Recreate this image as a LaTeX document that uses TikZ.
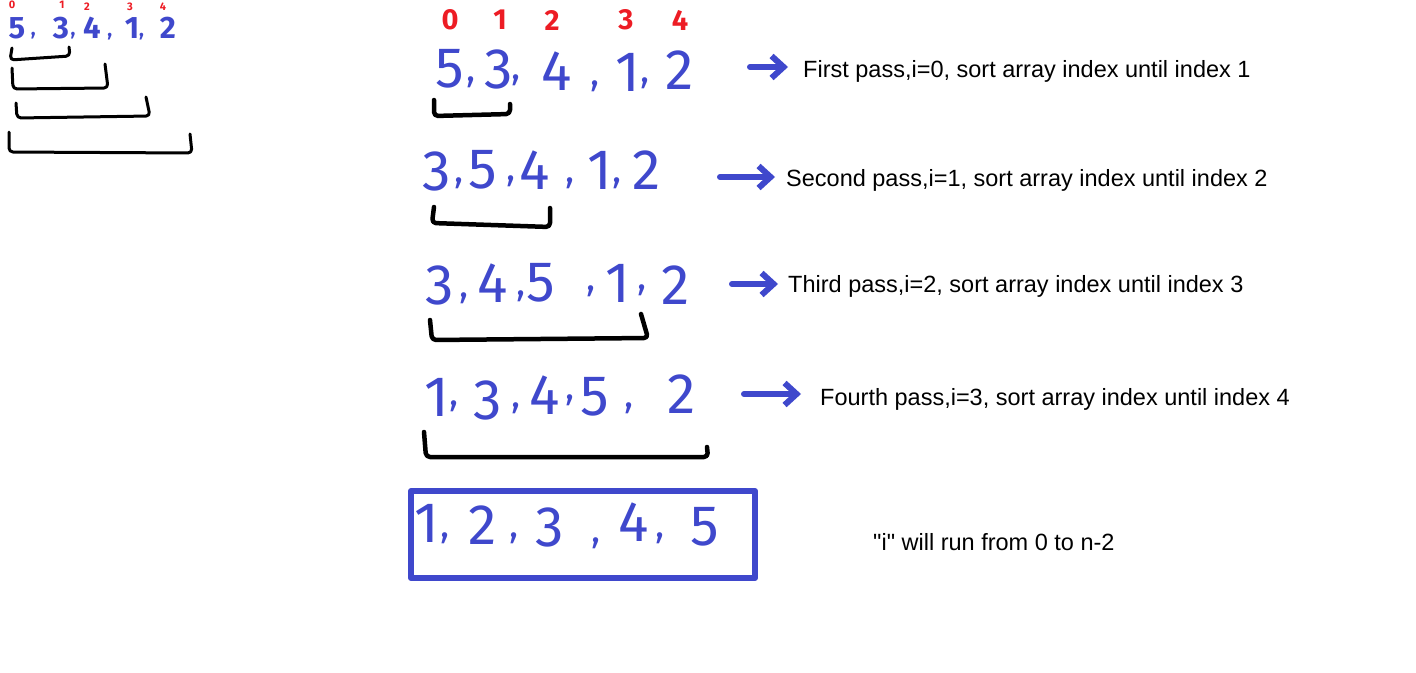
\documentclass[tikz,border=0pt]{standalone}
\usepackage{fontspec}
\setmainfont{Liberation Sans}[Ligatures=TeXOff]
\newfontfamily\handfont{Fira Sans}
\usetikzlibrary{arrows.meta}
\definecolor{penBlue}{RGB}{63, 72, 204}
\definecolor{penRed}{RGB}{237, 28, 36}
% comma written after a digit: shift right, raise, size
\newcommand{\pencomma}[3]{\rlap{\smash{\hspace{#1pt}\raisebox{#2pt}{\fontsize{#3}{#3}\selectfont,}}}}

\begin{document}
\begin{tikzpicture}[x=1pt, y=-1pt,
    digit/.style={penBlue, inner sep=0pt, font=\handfont\fontsize{57}{57}\selectfont},
    smalldigit/.style={penBlue, inner sep=0pt, font=\handfont\bfseries\fontsize{31}{31}\selectfont},
    index/.style={penRed, inner sep=0pt, font=\handfont\bfseries\fontsize{29}{29}\selectfont},
    tinyindex/.style={penRed, inner sep=0pt, font=\handfont\bfseries\fontsize{11}{11}\selectfont},
    passtext/.style={anchor=base west, inner sep=0pt, font=\fontsize{23.5}{28}\selectfont},
    bracket/.style={line width=4.5pt, line cap=round, line join=round, rounded corners=4pt},
    smallbracket/.style={bracket, line width=3pt},
    handarrow/.style={penBlue, line width=6pt, line cap=round, line join=round,
      -{Straight Barb[length=12pt, width=22pt]}}]
  \useasboundingbox (0,0) rectangle (1416,672);

  % Sketch in the top left corner
  \node[tinyindex] (s0) at (12,5) {0};
  \node[tinyindex] (s1) at (62,5) {1};
  \node[tinyindex] (s2) at (87,7) {2};
  \node[tinyindex] (s3) at (130,7) {3};
  \node[tinyindex] (s4) at (163,7) {4};
  \node[smalldigit] (sa) at (17,28) {5\pencomma{5.5}{3}{20}};
  \node[smalldigit] (sb) at (61,28) {3\pencomma{1.5}{3}{20}};
  \node[smalldigit] (sc) at (92,28) {4\pencomma{6.5}{2}{20}};
  \node[smalldigit] (sd) at (132,28) {1\pencomma{0}{2}{20}};
  \node[smalldigit] (se) at (168,28) {2};
  \draw[smallbracket] (12,48) -- (10,60) -- (70,56) -- (69,47);
  \draw[smallbracket] (12,68) -- (13,89) -- (108,88) -- (105,64);
  \draw[smallbracket] (16,103) -- (17,118) -- (150,116) -- (146,97);
  \draw[smallbracket] (9,132) -- (9,152) -- (192,153) -- (190,134);

  % Index numbers
  \node[index] (i0) at (450,20) {0};
  \node[index] (i1) at (500,20) {1};
  \node[index] (i2) at (552,20) {2};
  \node[index] (i3) at (626,20) {3};
  \node[index] (i4) at (680,20) {4};

  % First pass
  \node[digit] (r1a) at (450,69) {5\pencomma{2}{6.5}{38}};
  \node[digit] (r1b) at (499,69) {3\pencomma{-2}{8.5}{38}};
  \node[digit] (r1c) at (557,71) {4\pencomma{18}{4.5}{38}};
  \node[digit] (r1d) at (628,72) {1\pencomma{0}{8.5}{38}};
  \node[digit] (r1e) at (680,70) {2};
  \draw[bracket] (434,100) -- (434,116) -- (510,114) -- (510,104);

  % Second pass
  \node[digit] (r2a) at (437,171) {3\pencomma{3}{7.5}{38}};
  \node[digit] (r2b) at (483,170) {5\pencomma{9}{8.5}{38}};
  \node[digit] (r2c) at (535,170) {4\pencomma{15}{6.5}{38}};
  \node[digit] (r2d) at (600,170) {1\pencomma{0}{6.5}{38}};
  \node[digit] (r2e) at (647,170) {2};
  \draw[bracket] (434,207) -- (432,223) -- (550,227) -- (550,208);

  % Third pass
  \node[digit] (r3a) at (440,285) {3\pencomma{5}{6.5}{38}};
  \node[digit] (r3b) at (493,283) {4\pencomma{8}{6.5}{38}};
  \node[digit] (r3c) at (541,283) {5\pencomma{31}{11.5}{38}};
  \node[digit] (r3d) at (618,283) {1\pencomma{7}{12.5}{38}};
  \node[digit] (r3e) at (676,285) {2};
  \draw[bracket] (430,320) -- (432,340) -- (648,338) -- (641,314);

  % Fourth pass
  \node[digit] (r4a) at (437,397) {1\pencomma{0}{10.5}{38}};
  \node[digit] (r4b) at (488,400) {3\pencomma{9}{11.5}{38}};
  \node[digit] (r4c) at (545,395) {4\pencomma{5}{14.5}{38}};
  \node[digit] (r4d) at (595,397) {5\pencomma{15}{8.5}{38}};
  \node[digit] (r4e) at (682,394) {2};
  \draw[bracket] (424,432) -- (426,457) -- (708,457) -- (707,447);

  % Sorted result
  \node[digit] (r5a) at (427,523) {1\pencomma{1}{4.5}{38}};
  \node[digit] (r5b) at (483,525) {2\pencomma{12}{6.5}{38}};
  \node[digit] (r5c) at (550,527) {3\pencomma{27}{3.5}{38}};
  \node[digit] (r5d) at (634,522) {4\pencomma{6}{3.5}{38}};
  \node[digit] (r5e) at (705,527) {5};
  \draw[penBlue, line width=6pt, line join=round] (411,491) rectangle (755,578);

  % Notes
  \node[passtext] (t1) at (803,77) {First pass,i=0, sort array index until index 1};
  \node[passtext] (t2) at (786,186) {Second pass,i=1, sort array index until index 2};
  \node[passtext] (t3) at (788,292) {Third pass,i=2, sort array index until index 3};
  \node[passtext] (t4) at (820,405) {Fourth pass,i=3, sort array index until index 4};
  \node[passtext] (note) at (873,550) {"i" will run from 0 to n-2};

  % Arrows to the notes
  \coordinate (a1) at (750,67);
  \coordinate (a2) at (720,177);
  \coordinate (a3) at (732,284);
  \coordinate (a4) at (744,394);
  \draw[handarrow, shorten >=15pt] (a1) -- (a1 -| t1.west);
  \draw[handarrow, shorten >=11pt] (a2) -- (a2 -| t2.west);
  \draw[handarrow, shorten >=10pt] (a3) -- (a3 -| t3.west);
  \draw[handarrow, shorten >=19pt] (a4) -- (a4 -| t4.west);
\end{tikzpicture}
\end{document}
